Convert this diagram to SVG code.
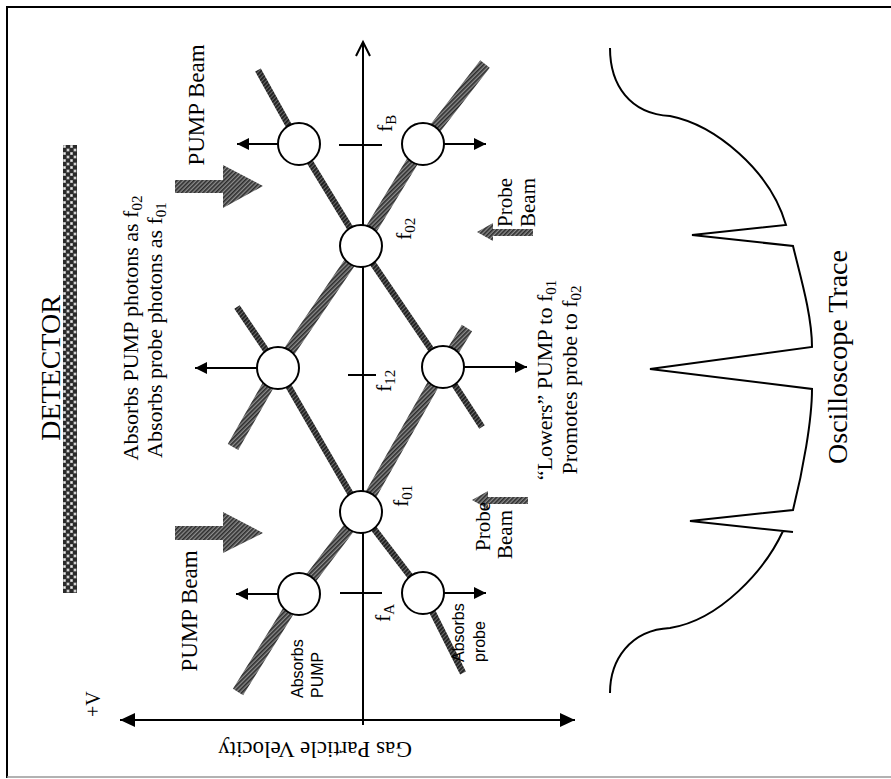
<svg xmlns="http://www.w3.org/2000/svg" width="891" height="779" viewBox="0 0 891 779">
<defs>
<pattern id="hatch" width="3" height="3" patternUnits="userSpaceOnUse" patternTransform="rotate(45)"><rect width="3" height="3" fill="#8c8c8c"/><rect width="1.6" height="3" fill="#2c2c2c"/></pattern>
<pattern id="hatchDark" width="3" height="3" patternUnits="userSpaceOnUse" patternTransform="rotate(45)"><rect width="3" height="3" fill="#6a6a6a"/><rect width="1.8" height="3" fill="#1c1c1c"/></pattern>
<pattern id="checker" width="7" height="7" patternUnits="userSpaceOnUse" x="63" y="145"><rect width="7" height="7" fill="#2a2a2a"/><rect x="0" y="0" width="3" height="3" fill="#9a9a9a"/><rect x="3.5" y="3.5" width="3" height="3" fill="#9a9a9a"/><circle cx="1.5" cy="1.5" r="0.9" fill="#eee"/><circle cx="5" cy="5" r="0.9" fill="#eee"/></pattern>
<marker id="ah" viewBox="0 0 12 12" refX="12" refY="6" markerWidth="12" markerHeight="12" markerUnits="userSpaceOnUse" orient="auto"><path d="M0,0 L12,6 L0,12 z" fill="#000"/></marker>
<marker id="axh" viewBox="0 0 15 14" refX="15" refY="7" markerWidth="15" markerHeight="14" markerUnits="userSpaceOnUse" orient="auto-start-reverse"><path d="M0,0 L15,7 L0,14 z" fill="#000"/></marker>
</defs>
<style>
.t{font-family:"Liberation Serif","Times New Roman",serif;fill:#000}
.s{font-family:"Liberation Sans",Arial,sans-serif;fill:#000}
.node{fill:#fff;stroke:#000;stroke-width:2}
.ln{fill:none;stroke:#000;stroke-width:2}
.thick{fill:none;stroke:url(#hatch);stroke-width:12}
.thin{fill:none;stroke:url(#hatchDark);stroke-width:6.5}
.beam{fill:url(#hatch)}
</style>

<g id="border">
<path d="M7,778 V7 H891" class="ln"/>
<path d="M7,777 H891" fill="none" stroke="#999" stroke-width="1.5"/>
</g>

<g id="detector">
<rect x="63" y="145" width="14" height="448" fill="url(#checker)"/>
<text class="t" font-size="28" text-anchor="middle" transform="translate(60,368) rotate(-90)">DETECTOR</text>
</g>

<g id="axes">
<line x1="120" y1="720" x2="575" y2="720" class="ln" marker-start="url(#axh)" marker-end="url(#axh)"/>
<line x1="363" y1="725" x2="363" y2="43" class="ln"/>
<path d="M356,56 L363,42 L370,56" class="ln"/>
<text class="t" font-size="20" transform="translate(100,717) rotate(-90)">+V</text>
<text class="t" font-size="23" text-anchor="middle" transform="translate(315,742) rotate(180)">Gas Particle Velocity</text>
</g>

<g id="connectors">
<polyline class="thick" points="485,64 423,144 361,246 278,368 233,447"/>
<polyline class="thin" points="258,70 299,144 361,246 443,367 482,427"/>
<polyline class="thick" points="467,328 443,367 361,512 299,594 238,692"/>
<polyline class="thin" points="237,307 278,368 361,512 423,593 463,673"/>
<line x1="278" y1="144" x2="237" y2="144" class="ln" marker-end="url(#ah)"/>
<line x1="444" y1="144" x2="486" y2="144" class="ln" marker-end="url(#ah)"/>
<line x1="257" y1="368" x2="195" y2="368" class="ln" marker-end="url(#ah)"/>
<line x1="464" y1="367" x2="527" y2="367" class="ln" marker-end="url(#ah)"/>
<line x1="278" y1="594" x2="236" y2="594" class="ln" marker-end="url(#ah)"/>
<line x1="444" y1="593" x2="486" y2="593" class="ln" marker-end="url(#ah)"/>
<path d="M339,145 H382 M348,375 H376 M340,593 H382" class="ln"/>
</g>

<g id="nodes">
<circle id="n-fBL" cx="299" cy="144" r="21" class="node"/>
<circle id="n-fBR" cx="423" cy="144" r="21" class="node"/>
<circle id="n-f02" cx="361" cy="246" r="21" class="node"/>
<circle id="n-f12L" cx="278" cy="368" r="21" class="node"/>
<circle id="n-f12R" cx="443" cy="367" r="21" class="node"/>
<circle id="n-f01" cx="361" cy="512" r="21" class="node"/>
<circle id="n-fAL" cx="299" cy="594" r="21" class="node"/>
<circle id="n-fAR" cx="423" cy="593" r="21" class="node"/>
</g>

<g id="freq-labels">
<text class="t" font-size="22" transform="translate(392,132) rotate(-90)">f<tspan font-size="15" dy="4">B</tspan></text>
<text class="t" font-size="22" transform="translate(411,240) rotate(-90)">f<tspan font-size="15" dy="4">02</tspan></text>
<text class="t" font-size="22" transform="translate(391,392) rotate(-90)">f<tspan font-size="15" dy="4">12</tspan></text>
<text class="t" font-size="22" transform="translate(408,507) rotate(-90)">f<tspan font-size="15" dy="4">01</tspan></text>
<text class="t" font-size="22" transform="translate(390,622) rotate(-90)">f<tspan font-size="15" dy="4">A</tspan></text>
</g>

<g id="pump-beams">
<polygon class="beam" points="175,180 223,180 223,165 263,186 223,208 223,193 175,193"/>
<polygon class="beam" points="175,526 223,526 223,512 263,533 223,553 223,540 175,540"/>
<text class="t" font-size="23" text-anchor="middle" transform="translate(204,105) rotate(-90)">PUMP Beam</text>
<text class="t" font-size="23" text-anchor="middle" transform="translate(197,611) rotate(-90)">PUMP Beam</text>
</g>

<g id="probe-beams">
<polygon class="beam" points="533,229 493,229 493,223 477,232 493,241 493,236 533,236"/>
<polygon class="beam" points="528,497 488,497 488,491 472,500 488,509 488,504 528,504"/>
<text class="t" font-size="21" transform="translate(512,227) rotate(-90)">Probe</text>
<text class="t" font-size="21" transform="translate(535,227) rotate(-90)">Beam</text>
<text class="t" font-size="21" transform="translate(490,551) rotate(-90)">Probe</text>
<text class="t" font-size="21" transform="translate(512,559) rotate(-90)">Beam</text>
</g>

<g id="notes">
<text class="t" font-size="22" text-anchor="middle" transform="translate(138,328) rotate(-90)">Absorbs PUMP photons as f<tspan font-size="15" dy="4">02</tspan></text>
<text class="t" font-size="22" text-anchor="middle" transform="translate(162,330) rotate(-90)">Absorbs probe photons as f<tspan font-size="15" dy="4">01</tspan></text>
<text class="t" font-size="22" text-anchor="middle" transform="translate(552,380) rotate(-90)">“Lowers” PUMP to f<tspan font-size="15" dy="4">01</tspan></text>
<text class="t" font-size="22" text-anchor="middle" transform="translate(577,380) rotate(-90)">Promotes probe to f<tspan font-size="15" dy="4">02</tspan></text>
<text class="s" font-size="16" transform="translate(303,698) rotate(-90)">Absorbs</text>
<text class="s" font-size="16" transform="translate(323,698) rotate(-90)">PUMP</text>
<text class="s" font-size="16" transform="translate(464,662) rotate(-90)">Absorbs</text>
<text class="s" font-size="16" transform="translate(485,662) rotate(-90)">probe</text>
</g>

<g id="oscilloscope">
<path d="M610,48 C610,85 630,114 670,116 C715,125 770,170 786,225 L692,235 L793,246 C800,275 812,315 812,347 L650,369 L812,389 C812,420 803,470 793,510 L690,521 L793,532 M783,531 C765,570 720,620 670,628 C630,630 610,660 610,693" class="ln"/>
<text class="t" font-size="28" text-anchor="middle" transform="translate(847,357) rotate(-90)">Oscilloscope Trace</text>
</g>
</svg>
